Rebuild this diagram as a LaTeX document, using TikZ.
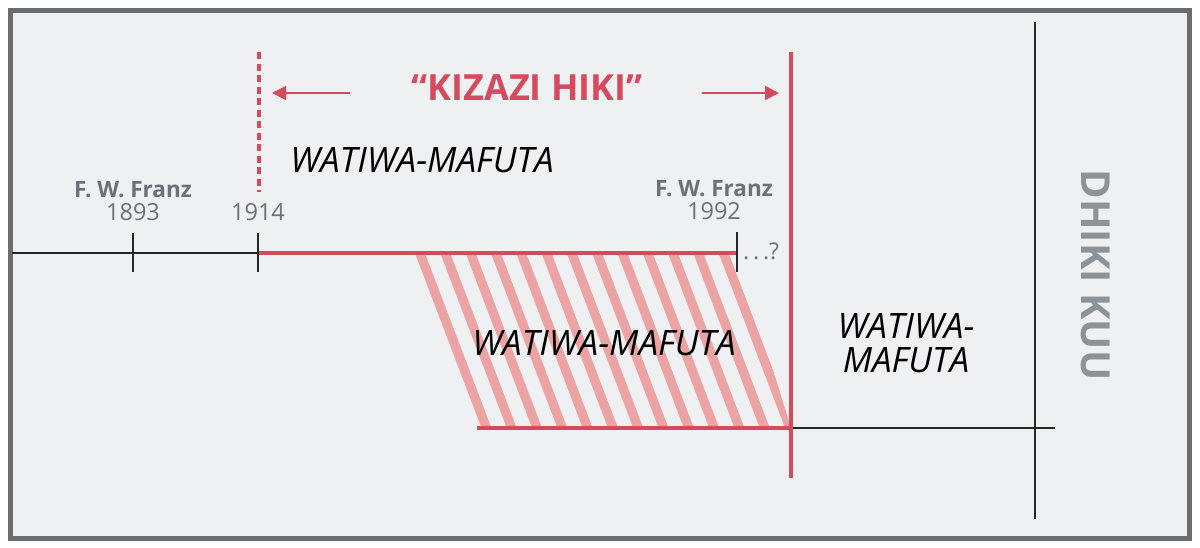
\documentclass[tikz,border=0pt]{standalone}
\usepackage{fontspec}
\setmainfont{Open Sans}
\usepackage{tikz}
\usetikzlibrary{arrows.meta, positioning}

\definecolor{jwred}{HTML}{D64A5E}
\definecolor{hatchred}{HTML}{ECA3A4}
\definecolor{framegray}{HTML}{6B6E70}
\definecolor{bggray}{HTML}{EFF0F2}
\definecolor{txtgray}{HTML}{6A7178}
\definecolor{kuugray}{HTML}{8C9398}

\begin{document}
\begin{tikzpicture}[x=1pt,y=-1pt]

	\tikzset{
		redline/.style={
				draw=jwred, line width=4.5pt
			},
		blackline/.style={
				draw=black!85, line width=2.5pt
			},
		hatch/.style={
				draw=hatchred, line width=9.3pt
			},
		redarrow/.style={
				draw=jwred, line width=1.8pt, -{Triangle[length=14pt,width=14pt]}
			},
		eralbl/.style={
				font=\itshape\fontsize{35}{34}\selectfont, inner sep=0pt, align=center
			},
		namelbl/.style={
				text=txtgray, font=\bfseries\fontsize{22.5}{24}\selectfont, inner sep=0pt
			},
		yearlbl/.style={
				text=txtgray, font=\fontsize{23.5}{24}\selectfont, inner sep=0pt
			},
	}
	\useasboundingbox (0,0) rectangle (1200,547);
	\draw[framegray, line width=5pt, fill=bggray] (10.5,10.5) rectangle (1189.5,538);

	% hatched band
	\begin{scope}
		\clip (410,253) -- (737,253) -- (791,428) -- (477,428) -- cycle;
		\foreach \k in {0,...,12}
			\draw[hatch] ({415+25.3*\k},240) -- ++(76,200);
	\end{scope}

	\coordinate (tstart) at (12,253);
	\coordinate (t1893) at (133,253);
	\coordinate (t1914) at (258,253);
	\coordinate (t1992) at (737,253);
	\coordinate (bstart) at (477,428);
	\coordinate (bcross) at (791,428);
	\coordinate (bend) at (1055,428);
	\coordinate (endtop) at (791,52);
	\coordinate (endbot) at (791,478);
	\coordinate (kuutop) at (1035,22);
	\coordinate (kuubot) at (1035,519);
	\coordinate (dashtop) at (259,52);
	\coordinate (dashbot) at (259,192);

	\draw[blackline] (tstart) -- (t1914);
	\draw[redline] (t1914) -- (t1992);
	\draw[redline] (bstart) -- (bcross);
	\draw[blackline] (bcross) -- (bend);
	\draw[blackline] (kuutop) -- (kuubot);
	\draw[redline, line width=4pt] (endtop) -- (endbot);
	\draw[redline, line width=4pt, dash pattern=on 7pt off 4.5pt] (dashtop) -- (dashbot);

	% ticks
	\draw[blackline] (t1893) ++(0,-20) -- ++(0,39);
	\draw[blackline] (t1914) ++(0,-20) -- ++(0,39);
	\draw[blackline] (t1992) ++(0,-21) -- ++(0,40);

	\node[yearlbl](y1893) at (133,212){1893};
	\node[namelbl, above=5pt of y1893](n1893){F. W. Franz};
	\node[yearlbl](y1914) at (258,212){1914};
	\node[yearlbl](y1992) at (714,211){1992};
	\node[namelbl, above=5pt of y1992](n1992){F. W. Franz};
	\node[yearlbl, anchor=west, font=\fontsize{23}{24}\selectfont](more) at (743,251){.\,.\,.?};

	\node[text=jwred, font=\bfseries\fontsize{36}{40}\selectfont, inner sep=0pt](kizazi) at (527,88){“KIZAZI HIKI”};
	\draw[redarrow] (350,93) -- (272,93);
	\draw[redarrow] (702,93) -- (779,93);

	\node[eralbl](era1) at (422,160){WATIWA-MAFUTA};
	\node[eralbl](era2) at (604,343){WATIWA-MAFUTA};
	\node[eralbl](era3) at (906,343){WATIWA-\\MAFUTA};

	\node[rotate=-90, text=kuugray, font=\bfseries\fontsize{40}{40}\selectfont, inner sep=0pt](kuu) at (1096,275){DHIKI KUU};

\end{tikzpicture}
\end{document}
